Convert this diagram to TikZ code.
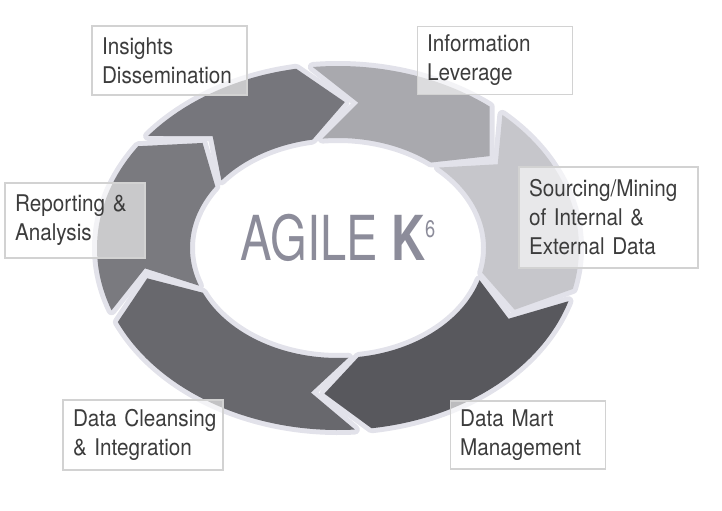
\documentclass[tikz,border=0pt]{standalone}
\usepackage{fontspec}
\setmainfont{TeX Gyre Heros}[FakeStretch=0.9]
\newfontfamily\agilefont{TeX Gyre Heros}[FakeStretch=0.76]
\usetikzlibrary{positioning}
\hyphenpenalty=10000

\definecolor{insightgray}{HTML}{76767C}
\definecolor{levergray}{HTML}{A9A9AE}
\definecolor{sourcegray}{HTML}{C6C6CB}
\definecolor{martgray}{HTML}{58585D}
\definecolor{cleangray}{HTML}{68686D}
\definecolor{reportgray}{HTML}{7A7A7F}
\definecolor{halo}{HTML}{E2E2EA}
\definecolor{agilegray}{HTML}{8C8C9A}
\definecolor{textgray}{HTML}{3C3C3C}

% gap and chevron depth between the ring parts, in degrees
\def\gapang{4}
\def\depthang{12}

\newcommand{\ringsegment}[3]{%
  \pgfmathsetmacro\tailA{#1-\gapang/2+\depthang/2}
  \pgfmathsetmacro\tailN{#1-\gapang/2-\depthang/2}
  \pgfmathsetmacro\headA{#2+\gapang/2+\depthang/2}
  \pgfmathsetmacro\headT{#2+\gapang/2-\depthang/2}
  \fill[segment=#3, shift={(ringc)}]
    (\tailA:241 and 182) arc[start angle=\tailA, end angle=\headA, x radius=241, y radius=182]
    -- (\headT:195 and 146) -- (\headA:148 and 110)
    arc[start angle=\headA, end angle=\tailA, x radius=148, y radius=110]
    -- (\tailN:195 and 146) -- cycle;
}

\begin{document}
\begin{tikzpicture}[x=0.5pt, y=0.5pt,
    segment/.style={fill=#1, preaction={draw=halo, line width=5pt, line join=round}},
    stagebox/.style={draw=gray!35, line width=0.6pt, fill=white, fill opacity=0.6, text opacity=1,
      text=textgray, align=left, inner xsep=5pt, inner ysep=2pt,
      font=\fontsize{11.5}{14.5}\selectfont}]

    \useasboundingbox (0,0) rectangle (722,510);

    \coordinate (ringc) at (338,262);

    % the six parts of the cycle, clockwise
    \ringsegment{138}{92}{insightgray}
    \ringsegment{92}{43}{levergray}
    \ringsegment{43}{-21}{sourcegray}
    \ringsegment{-21}{-90}{martgray}
    \ringsegment{-90}{-164}{cleangray}
    \ringsegment{196}{138}{reportgray}

    \node[text=agilegray, font=\agilefont\fontsize{31}{31}\selectfont, anchor=base] (agile) at (338,250)
        {AGILE \textbf{K}\raisebox{11.5pt}{\fontsize{12}{12}\selectfont 6}};

    \node[stagebox, text width=67.5pt, minimum height=34.5pt] (insights) at (169.5,449.5) {Insights\\Dissemination};

    \node[stagebox, text width=67.5pt, minimum height=34pt] (leverage) [right=84.5pt of insights] {Information\\Leverage};

    \node[stagebox, text width=79.5pt, minimum height=50.5pt] (sourcing) at (608.5,292.5) {Sourcing/Mining\\of Internal \&\\External Data};

    \node[stagebox, text width=60pt, minimum height=37.5pt] (reporting) at (75,289.5) {Reporting \&\\Analysis};

    \node[stagebox, text width=70pt, minimum height=35pt] (cleansing) at (143,75) {Data~Cleansing\\\& Integration};

    \node[stagebox, text width=67.5pt, minimum height=34pt] (datamart) [right=113pt of cleansing] {Data Mart\\Management};

\end{tikzpicture}
\end{document}
